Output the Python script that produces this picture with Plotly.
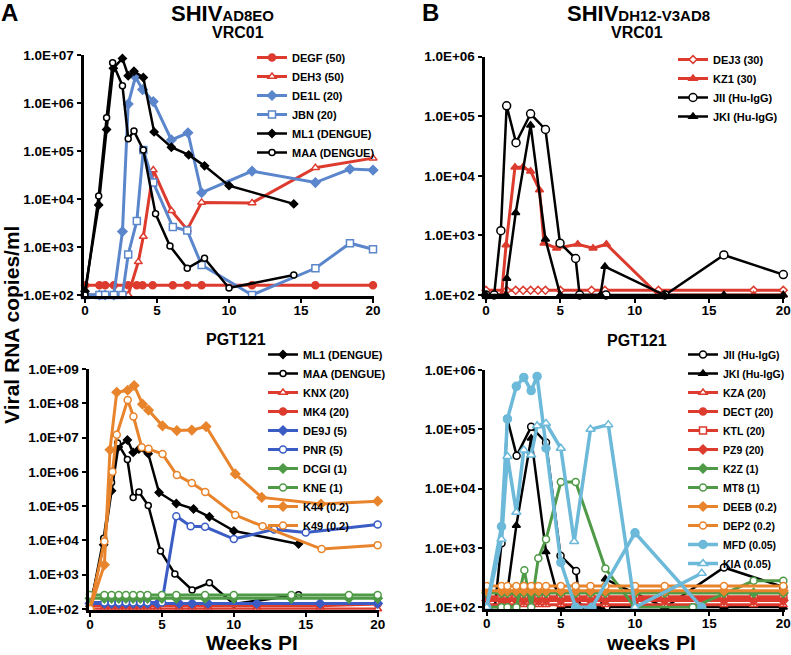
import plotly.graph_objects as go

W, H = 791, 655

# ---------------- DATA ----------------
# Panel A (SHIV AD8EO) - VRC01
degf_x = [0, 1, 1.4, 2, 3, 3.6, 4, 4.7, 6.1, 7.1, 8.1, 11.6, 16, 20]
degf_y = [160, 160, 160, 160, 160, 160, 160, 160, 160, 160, 160, 160, 160, 160]
deh3_x = [0, 1, 1.4, 2, 2.6, 3.0, 3.7, 4.05, 4.74, 6.0, 7.1, 8.1, 11.6, 16.0, 20]
deh3_y = [100, 100, 100, 100, 100, 100, 490, 1650, 40000, 5700, 2300, 8500, 8300, 45000, 71000]
de1l_x = [0, 1, 1.4, 2, 2.6, 3.0, 3.5, 4.0, 4.74, 6.0, 7.15, 8.1, 11.6, 16.0, 18.4, 20]
de1l_y = [100, 100, 100, 100, 2100, 950000, 3500000, 1900000, 1070000, 170000, 240000, 13500, 38000, 22000, 42000, 40000]
jbn_x = [0, 1, 1.4, 2, 2.6, 3.0, 3.6, 4.05, 4.74, 6.1, 7.1, 8.1, 11.6, 16.0, 18.4, 20]
jbn_y = [100, 100, 100, 100, 100, 700, 3500, 105000, 22000, 2600, 2200, 420, 100, 360, 1200, 900]
ml1_x = [0, 0.95, 1.5, 1.97, 2.6, 3.0, 3.4, 4.05, 4.8, 6.0, 7.2, 8.3, 10.0, 14.5]
ml1_y = [120, 7500, 280000, 5300000, 8500000, 3700000, 4600000, 3400000, 250000, 120000, 83000, 49000, 19000, 7900]
maa_x = [0, 0.95, 1.5, 1.92, 2.6, 3.0, 3.4, 4.05, 4.9, 5.9, 7.1, 8.3, 10.0, 14.5]
maa_y = [100, 11500, 490000, 6900000, 2300000, 180000, 260000, 105000, 4900, 1050, 360, 580, 140, 260]

# Panel A - PGT121
knx_x = [0, 1, 1.5, 2, 2.5, 3, 3.5, 4, 4.7, 6.2, 7.1, 8.2, 11.6, 16, 20]
knx_y = [100, 100, 100, 100, 100, 100, 100, 100, 100, 100, 100, 100, 100, 100, 100]
mk4_x = [0, 1, 1.5, 2, 2.5, 3, 3.5, 4, 4.7, 6.2, 7.1, 8.2, 11.6, 16, 20]
mk4_y = [125, 125, 125, 125, 125, 125, 125, 125, 125, 125, 125, 125, 125, 125, 140]
de9j_x = [0, 1, 1.5, 2, 2.5, 3, 3.5, 4, 4.7, 6.2, 7.1, 8.2, 11.6, 16, 20]
de9j_y = [145, 145, 145, 145, 145, 145, 145, 145, 145, 145, 145, 145, 145, 145, 145]
pnr_x = [0, 1, 1.5, 2, 2.5, 3, 3.5, 4, 5, 6, 7, 8, 10, 12.8, 15, 20]
pnr_y = [155, 155, 155, 155, 155, 155, 155, 155, 155, 51000, 26000, 25000, 11000, 21000, 17000, 29000]
dcgi_x = [0, 1, 1.5, 2, 2.5, 3, 3.5, 4, 5, 6, 8, 10, 14, 18, 20]
dcgi_y = [205, 205, 205, 205, 205, 205, 205, 205, 205, 205, 205, 205, 205, 205, 205]
kne_x = [0, 1, 1.5, 2, 2.5, 3, 3.5, 4, 5, 6, 8, 10, 14, 18, 20]
kne_y = [257, 257, 257, 257, 257, 257, 257, 257, 257, 257, 257, 257, 257, 257, 257]
k44_x = [0, 1.0, 1.39, 1.86, 2.62, 3.07, 3.65, 4.07, 5.04, 6.04, 7.08, 8.07, 10.1, 11.94, 16.06, 20]
k44_y = [100, 1950, 4.4e6, 2.1e8, 2.4e8, 3.3e8, 9.4e7, 6.3e7, 2.2e7, 1.6e7, 1.65e7, 2.1e7, 8.7e5, 1.8e5, 1.15e5, 1.4e5]
k49_x = [0, 1.0, 1.56, 1.86, 2.62, 3.02, 3.6, 4.07, 5.04, 6.04, 7.08, 8.01, 10.1, 12.0, 16.1, 20]
k49_y = [100, 9300, 1.0e6, 1.2e7, 1.25e8, 4.1e7, 5.2e6, 4.7e6, 3.3e6, 8.1e5, 4.7e5, 2.6e5, 5.5e4, 2.6e4, 5600, 7300]

# Panel B (SHIV DH12-V3AD8) - VRC01
dej3_x = [0, 1.4, 2, 2.5, 3, 3.5, 4, 5, 7.1, 8, 11.6, 18, 20]
dej3_y = [120, 120, 120, 120, 120, 120, 120, 120, 120, 120, 120, 120, 120]
kz1_x = [0, 1.05, 1.35, 1.95, 2.48, 3.0, 3.6, 3.9, 4.75, 6.17, 7.2, 8.1, 11.6, 18, 20]
kz1_y = [100, 100, 690, 14000, 14000, 12000, 5800, 740, 610, 710, 610, 710, 100, 100, 100]
jii_x = [0, 0.55, 1.0, 1.39, 2.02, 3.0, 4.0, 4.98, 6.03, 6.3, 8.07, 12.04, 16.0, 20]
jii_y = [100, 100, 1200, 150000, 36000, 110000, 60000, 740, 410, 100, 100, 100, 470, 220]
jki_x = [0, 1.35, 1.4, 2.0, 3.0, 4.0, 5.0, 7.7, 8.0, 12.0, 16.0, 20]
jki_y = [100, 100, 190, 2400, 71000, 860, 100, 100, 300, 100, 100, 100]

# Panel B - PGT121
bred_x = [0, 1, 1.4, 2, 2.5, 3, 3.5, 4, 5, 6, 7, 8, 10, 12, 16, 18, 20]
kza_y = [110, 110, 110, 110, 110, 110, 110, 110, 110, 110, 110, 110, 110, 110, 110, 110, 110]
dect_y = [140, 140, 140, 140, 140, 140, 140, 140, 140, 140, 140, 140, 140, 140, 140, 140, 140]
ktl_y = [150, 150, 150, 150, 150, 150, 150, 150, 150, 150, 150, 150, 150, 150, 150, 150, 150]
pz9_y = [130, 130, 130, 130, 130, 130, 130, 130, 130, 130, 130, 130, 130, 130, 130, 130, 130]
k2z_y = [175, 175, 175, 175, 175, 175, 175, 175, 175, 175, 175, 175, 175, 175, 175, 175, 175]
mt8_x = [0, 1, 1.4, 2, 2.54, 3.0, 3.48, 4.0, 5.0, 6.0, 8.0, 10, 13.9, 18, 20]
mt8_y = [100, 100, 100, 100, 420, 100, 670, 1400, 13000, 13000, 450, 100, 100, 280, 280]
deeb_x = [0, 1, 1.4, 2, 2.5, 3, 3.5, 4, 5, 6, 7, 8, 10, 12, 16, 20]
deeb_y = [190, 190, 190, 190, 190, 190, 190, 190, 190, 190, 190, 190, 190, 190, 190, 190]
dep2_y = [228, 228, 228, 228, 228, 228, 228, 228, 228, 228, 228, 228, 228, 228, 228, 228]
mfd_x = [0, 1, 1.4, 2, 2.5, 3, 3.4, 4, 5, 6, 7.1, 10, 14.5]
mfd_y = [100, 2300, 150000, 530000, 750000, 450000, 780000, 48000, 570, 100, 100, 1800, 100]
kia_x = [0, 1, 1.4, 2, 2.5, 3, 3.4, 4, 5, 5.9, 7, 8.2, 10, 14.5]
kia_y = [100, 1400, 35000, 4000, 45000, 37000, 115000, 126000, 48000, 1290, 100000, 120000, 100, 375]

x_ticks = [0, 5, 10, 15, 20]
a_top_ticks = [1e2, 1e3, 1e4, 1e5, 1e6, 1e7]
a_top_text = ["1.0E+02", "1.0E+03", "1.0E+04", "1.0E+05", "1.0E+06", "1.0E+07"]
a_bot_ticks = [1e2, 1e3, 1e4, 1e5, 1e6, 1e7, 1e8, 1e9]
a_bot_text = ["1.0E+02", "1.0E+03", "1.0E+04", "1.0E+05", "1.0E+06", "1.0E+07", "1.0E+08", "1.0E+09"]
b_ticks = [1e2, 1e3, 1e4, 1e5, 1e6]
b_text = ["1.0E+02", "1.0E+03", "1.0E+04", "1.0E+05", "1.0E+06"]

# ---------------- STYLE ----------------
RED = "#dc3b2e"
BLUE_A = "#5b86cc"
BLUE_B = "#3a5cc4"
GREEN = "#4f9a46"
ORANGE = "#e8842c"
LBLUE = "#6cb9d9"
BLACK = "#000000"
FONT = "Liberation Sans, Arial, sans-serif"

fig = go.Figure()


def add(name, x, y, color, symbol, filled, xa, ya, leg, width=3, size=7):
    fig.add_trace(go.Scatter(
        x=x, y=y, name=name, mode="lines+markers",
        xaxis=xa, yaxis=ya, legend=leg, cliponaxis=False,
        line=dict(color=color, width=width),
        marker=dict(symbol=symbol, size=size,
                    color=color if filled else "white",
                    line=dict(color=color, width=1.5)),
    ))


# A top
add("DEGF (50)", degf_x, degf_y, RED, "circle", True, "x", "y", "legend")
add("DEH3 (50)", deh3_x, deh3_y, RED, "triangle-up", False, "x", "y", "legend")
add("DE1L (20)", de1l_x, de1l_y, BLUE_A, "diamond", True, "x", "y", "legend")
add("JBN (20)", jbn_x, jbn_y, BLUE_A, "square", False, "x", "y", "legend")
add("ML1 (DENGUE)", ml1_x, ml1_y, BLACK, "diamond", True, "x", "y", "legend", width=2.5, size=6)
add("MAA (DENGUE)", maa_x, maa_y, BLACK, "circle", False, "x", "y", "legend", width=2.5, size=6)

# A bottom
add("ML1 (DENGUE)", ml1_x, ml1_y, BLACK, "diamond", True, "x2", "y2", "legend2", width=2.5, size=6)
add("MAA (DENGUE)", maa_x, maa_y, BLACK, "circle", False, "x2", "y2", "legend2", width=2.5, size=6)
add("KNX (20)", knx_x, knx_y, RED, "triangle-up", False, "x2", "y2", "legend2")
add("MK4 (20)", mk4_x, mk4_y, RED, "circle", True, "x2", "y2", "legend2")
add("DE9J (5)", de9j_x, de9j_y, BLUE_B, "diamond", True, "x2", "y2", "legend2")
add("PNR (5)", pnr_x, pnr_y, BLUE_B, "circle", False, "x2", "y2", "legend2")
add("DCGI (1)", dcgi_x, dcgi_y, GREEN, "diamond", True, "x2", "y2", "legend2")
add("KNE (1)", kne_x, kne_y, GREEN, "circle", False, "x2", "y2", "legend2")
add("K44 (0.2)", k44_x, k44_y, ORANGE, "diamond", True, "x2", "y2", "legend2")
add("K49 (0.2)", k49_x, k49_y, ORANGE, "circle", False, "x2", "y2", "legend2")

# B top
add("DEJ3 (30)", dej3_x, dej3_y, RED, "diamond", False, "x3", "y3", "legend3", size=6)
add("KZ1 (30)", kz1_x, kz1_y, RED, "triangle-up", True, "x3", "y3", "legend3")
add("JII (Hu-IgG)", jii_x, jii_y, BLACK, "circle", False, "x3", "y3", "legend3", width=2.5, size=8)
add("JKI (Hu-IgG)", jki_x, jki_y, BLACK, "triangle-up", True, "x3", "y3", "legend3", width=2.5)

# B bottom
add("JII (Hu-IgG)", jii_x, jii_y, BLACK, "circle", False, "x4", "y4", "legend4", width=2.5)
add("JKI (Hu-IgG)", jki_x, jki_y, BLACK, "triangle-up", True, "x4", "y4", "legend4", width=2.5)
add("KZA (20)", bred_x, kza_y, RED, "triangle-up", False, "x4", "y4", "legend4")
add("DECT (20)", bred_x, dect_y, RED, "circle", True, "x4", "y4", "legend4")
add("KTL (20)", bred_x, ktl_y, RED, "square", False, "x4", "y4", "legend4")
add("PZ9 (20)", bred_x, pz9_y, RED, "diamond", True, "x4", "y4", "legend4")
add("K2Z (1)", bred_x, k2z_y, GREEN, "diamond", True, "x4", "y4", "legend4")
add("MT8 (1)", mt8_x, mt8_y, GREEN, "circle", False, "x4", "y4", "legend4")
add("DEEB (0.2)", deeb_x, deeb_y, ORANGE, "diamond", True, "x4", "y4", "legend4")
add("DEP2 (0.2)", deeb_x, dep2_y, ORANGE, "circle", False, "x4", "y4", "legend4")
add("MFD (0.05)", mfd_x, mfd_y, LBLUE, "circle", True, "x4", "y4", "legend4", width=3.5, size=8)
add("KIA (0.05)", kia_x, kia_y, LBLUE, "triangle-up", False, "x4", "y4", "legend4", width=3.5, size=8)


def px_dom_x(x0, x1):
    return [x0 / W, x1 / W]


def px_dom_y(top, bottom):
    return [1 - bottom / H, 1 - top / H]


tickfont = dict(family=FONT, size=13.5, color="black", weight="bold")


def xax(dom):
    return dict(domain=dom, range=[-0.1, 20.1], tickvals=x_ticks, showline=True,
                linewidth=3, linecolor="black", ticks="outside", ticklen=4, tickwidth=2,
                tickcolor="black", showgrid=False, zeroline=False, tickfont=tickfont,
                ticklabelstandoff=-4)


def yax(dom, top, vals, text):
    return dict(domain=dom, type="log", range=[1.98, top], tickvals=vals, ticktext=text,
                showline=True, linewidth=3, linecolor="black", ticks="outside", ticklen=4,
                tickwidth=2, tickcolor="black", showgrid=False, zeroline=False,
                tickfont=tickfont)


xa1 = xax(px_dom_x(83.56, 374.44)); xa1["anchor"] = "y"
xa2 = xax(px_dom_x(88.56, 379.1)); xa2["anchor"] = "y2"
xa3 = xax(px_dom_x(484.5, 784.8)); xa3["anchor"] = "y3"
xa4 = xax(px_dom_x(485.2, 784.8)); xa4["anchor"] = "y4"
ya1 = yax(px_dom_y(55, 295.96), 7, a_top_ticks, a_top_text); ya1["anchor"] = "x"
ya2 = yax(px_dom_y(369, 609.7), 9, a_bot_ticks, a_bot_text); ya2["anchor"] = "x2"
ya3 = yax(px_dom_y(56.7, 296.2), 6, b_ticks, b_text); ya3["anchor"] = "x3"
ya4 = yax(px_dom_y(370, 608.5), 6, b_ticks, b_text); ya4["anchor"] = "x4"


def leg(text_x, first_row_y, fsize):
    return dict(x=(text_x - 40) / W, y=1 - (first_row_y - 12) / H, xanchor="left",
                yanchor="top", bgcolor="rgba(0,0,0,0)",
                font=dict(family=FONT, size=fsize, color="black", weight="bold"),
                itemwidth=30, tracegroupgap=0, borderwidth=0)


def ann(text, x, y, size, yanchor="middle", **kw):
    return dict(text=text, x=x / W, y=1 - y / H, xref="paper", yref="paper",
                showarrow=False, xanchor="center", yanchor=yanchor,
                font=dict(family=FONT, size=size, color="black", weight="bold"), **kw)


annotations = [
    ann("A", 9, 12, 24),
    ann("B", 430, 12, 24),
    ann("SHIV<span style='font-size:15px'>AD8EO</span>", 222, 14, 22),
    ann("SHIV<span style='font-size:15px'>DH12-V3AD8</span>", 638, 14, 22),
    ann("VRC01", 238, 33, 16),
    ann("VRC01", 637, 33, 16),
    ann("PGT121", 236, 339, 16),
    ann("PGT121", 637, 340, 16),
    ann("Weeks PI", 252, 655, 21, yanchor="bottom", borderpad=0),
    ann("weeks PI", 651, 655, 21, yanchor="bottom", borderpad=0),
    ann("Viral RNA copies/ml", 11, 325, 21, textangle=-90),
]

fig.update_layout(
    width=W, height=H, autosize=False,
    margin=dict(l=0, r=0, t=0, b=0, pad=0, autoexpand=False),
    paper_bgcolor="white", plot_bgcolor="white",
    xaxis=xa1, yaxis=ya1, xaxis2=xa2, yaxis2=ya2,
    xaxis3=xa3, yaxis3=ya3, xaxis4=xa4, yaxis4=ya4,
    legend=leg(292, 55, 11), legend2=leg(303, 352, 11),
    legend3=leg(713, 57, 11), legend4=leg(723, 352, 10.5),
    annotations=annotations,
    showlegend=True,
)

fig.write_html(
    "out.html",
    config={"displayModeBar": False},
    post_script="document.body.style.margin='0px';document.body.style.overflow='hidden';",
)
